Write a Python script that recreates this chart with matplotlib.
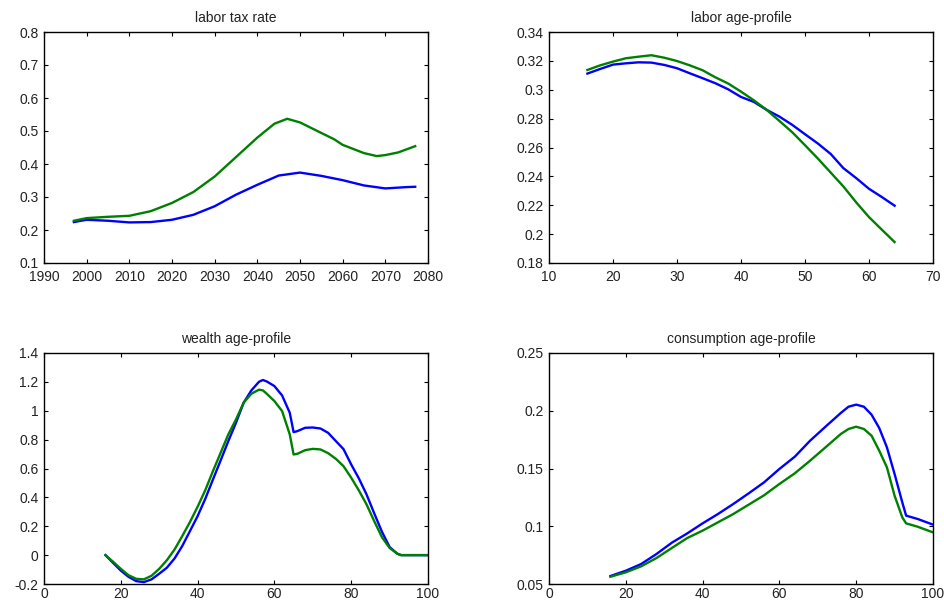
import numpy as np
import matplotlib
matplotlib.use("Agg")
import matplotlib.pyplot as plt
from matplotlib.ticker import FuncFormatter

plt.rcParams['font.family'] = ['Liberation Sans', 'DejaVu Sans']

# labor tax rate (by year)
tax_year_g = [1997, 2000, 2005, 2010, 2015, 2020, 2025, 2030, 2035, 2040, 2044, 2047,
              2050, 2055, 2058, 2060, 2065, 2068, 2070, 2073, 2077]
tax_green = [0.228, 0.236, 0.240, 0.243, 0.257, 0.282, 0.315, 0.362, 0.421, 0.480, 0.522, 0.537,
             0.526, 0.494, 0.475, 0.458, 0.433, 0.424, 0.427, 0.435, 0.454]
tax_year_b = [1997, 2000, 2005, 2010, 2015, 2020, 2025, 2030, 2035, 2040, 2045, 2050,
              2055, 2060, 2065, 2070, 2075, 2077]
tax_blue = [0.224, 0.231, 0.228, 0.223, 0.224, 0.231, 0.246, 0.272, 0.307, 0.337, 0.365, 0.374,
            0.364, 0.351, 0.335, 0.326, 0.330, 0.331]

# labor age-profile
lab_age = [16, 18, 20, 22, 24, 26, 28, 30, 32, 34, 36, 38, 40, 42, 44, 46, 48, 50,
           52, 54, 56, 58, 60, 62, 64]
lab_green = [0.3137, 0.3169, 0.3195, 0.3218, 0.3229, 0.3239, 0.3222, 0.3199, 0.3169, 0.3135,
             0.3086, 0.3043, 0.2987, 0.2927, 0.2861, 0.2784, 0.2706, 0.2616, 0.2524, 0.2427,
             0.2330, 0.2220, 0.2118, 0.2031, 0.1945]
lab_blue = [0.3112, 0.3144, 0.3174, 0.3183, 0.3190, 0.3188, 0.3172, 0.3149, 0.3114, 0.3080,
            0.3045, 0.3003, 0.2950, 0.2916, 0.2861, 0.2814, 0.2757, 0.2692, 0.2628, 0.2556,
            0.2457, 0.2388, 0.2314, 0.2257, 0.2197]

# wealth age-profile
w_age = [16, 18, 20, 22, 24, 26, 28, 30, 32, 34, 36, 38, 40, 42, 44, 46, 48, 50, 52, 54,
         56, 57, 58, 60, 62, 64, 65, 66, 68, 70, 72, 74, 76, 78, 80, 82, 84, 86, 88, 90,
         92, 93, 100]
w_blue = [0.0, -0.054, -0.107, -0.150, -0.180, -0.187, -0.168, -0.129, -0.087, -0.023,
          0.063, 0.166, 0.270, 0.390, 0.524, 0.656, 0.790, 0.917, 1.056, 1.141,
          1.201, 1.213, 1.203, 1.171, 1.106, 0.986, 0.852, 0.859, 0.882, 0.884,
          0.877, 0.847, 0.790, 0.734, 0.628, 0.531, 0.420, 0.289, 0.162, 0.056,
          0.010, 0.0, 0.0]
w_green = [0.0, -0.046, -0.095, -0.139, -0.164, -0.168, -0.143, -0.095, -0.035, 0.039,
           0.132, 0.229, 0.335, 0.450, 0.582, 0.709, 0.836, 0.940, 1.056, 1.118,
           1.146, 1.141, 1.118, 1.067, 0.998, 0.836, 0.697, 0.702, 0.727, 0.736,
           0.732, 0.706, 0.667, 0.616, 0.536, 0.448, 0.351, 0.235, 0.124, 0.050,
           0.010, 0.0, 0.0]

# consumption age-profile
c_age = [16, 20, 24, 28, 32, 36, 40, 44, 48, 52, 56, 60, 64, 68, 72, 76, 78, 80, 82,
         84, 86, 88, 90, 92, 93, 96, 100]
c_blue = [0.0569, 0.0615, 0.0673, 0.0760, 0.0858, 0.0938, 0.1025, 0.1106, 0.1193, 0.1285,
          0.1380, 0.1496, 0.1602, 0.1741, 0.1862, 0.1981, 0.2035, 0.2053, 0.2035,
          0.1966, 0.1850, 0.1683, 0.1452, 0.1207, 0.1092, 0.1063, 0.1014]
c_green = [0.0563, 0.0601, 0.0653, 0.0725, 0.0812, 0.0898, 0.0962, 0.1034, 0.1106, 0.1187,
           0.1268, 0.1366, 0.1458, 0.1568, 0.1683, 0.1799, 0.1842, 0.1862, 0.1842,
           0.1784, 0.1654, 0.1510, 0.1264, 0.1077, 0.1025, 0.0996, 0.0947]

BLUE = (0, 0, 1)
GREEN = (0, 0.5, 0)

fig = plt.figure(figsize=(9.44, 6.02), dpi=100)
w, h = 384 / 944, 231 / 602
lefts = [44 / 944, 549 / 944]
bottoms = [(602 - 263) / 602, (602 - 584) / 602]

fmt = FuncFormatter(lambda v, p: '%g' % round(v, 6))


def setup(ax, title, xlim, xticks, ylim, yticks, xpad):
    ax.set_xlim(xlim)
    ax.set_ylim(ylim)
    ax.set_xticks(xticks)
    ax.set_yticks(yticks)
    ax.xaxis.set_major_formatter(fmt)
    ax.yaxis.set_major_formatter(fmt)
    ax.tick_params(direction='in', length=3, width=0.8, top=True, right=True,
                   labelsize=10, colors='black', labelcolor='#222222')
    ax.tick_params(axis='x', pad=xpad)
    ax.tick_params(axis='y', pad=4)
    for s in ax.spines.values():
        s.set_linewidth(1.0)
    ax.set_title(title, fontsize=10, pad=7, color='#222222')


ax1 = fig.add_axes([lefts[0], bottoms[0], w, h])
ax1.plot(tax_year_b, tax_blue, color=BLUE, lw=1.7)
ax1.plot(tax_year_g, tax_green, color=GREEN, lw=1.7)
setup(ax1, 'labor tax rate', (1990, 2080), np.arange(1990, 2081, 10),
      (0.1, 0.8), np.arange(0.1, 0.81, 0.1), 5)

ax2 = fig.add_axes([lefts[1], bottoms[0], w, h])
ax2.plot(lab_age, lab_blue, color=BLUE, lw=1.7)
ax2.plot(lab_age, lab_green, color=GREEN, lw=1.7)
setup(ax2, 'labor age-profile', (10, 70), np.arange(10, 71, 10),
      (0.18, 0.34), np.arange(0.18, 0.341, 0.02), 5)

ax3 = fig.add_axes([lefts[0], bottoms[1], w, h])
ax3.plot(w_age, w_blue, color=BLUE, lw=1.7)
ax3.plot(w_age, w_green, color=GREEN, lw=1.7)
setup(ax3, 'wealth age-profile', (0, 100), np.arange(0, 101, 20),
      (-0.2, 1.4), np.arange(-0.2, 1.41, 0.2), 2.5)

ax4 = fig.add_axes([lefts[1], bottoms[1], w, h])
ax4.plot(c_age, c_blue, color=BLUE, lw=1.7)
ax4.plot(c_age, c_green, color=GREEN, lw=1.7)
setup(ax4, 'consumption age-profile', (0, 100), np.arange(0, 101, 20),
      (0.05, 0.25), np.arange(0.05, 0.251, 0.05), 2.5)

fig.savefig('out.png', dpi=100)
